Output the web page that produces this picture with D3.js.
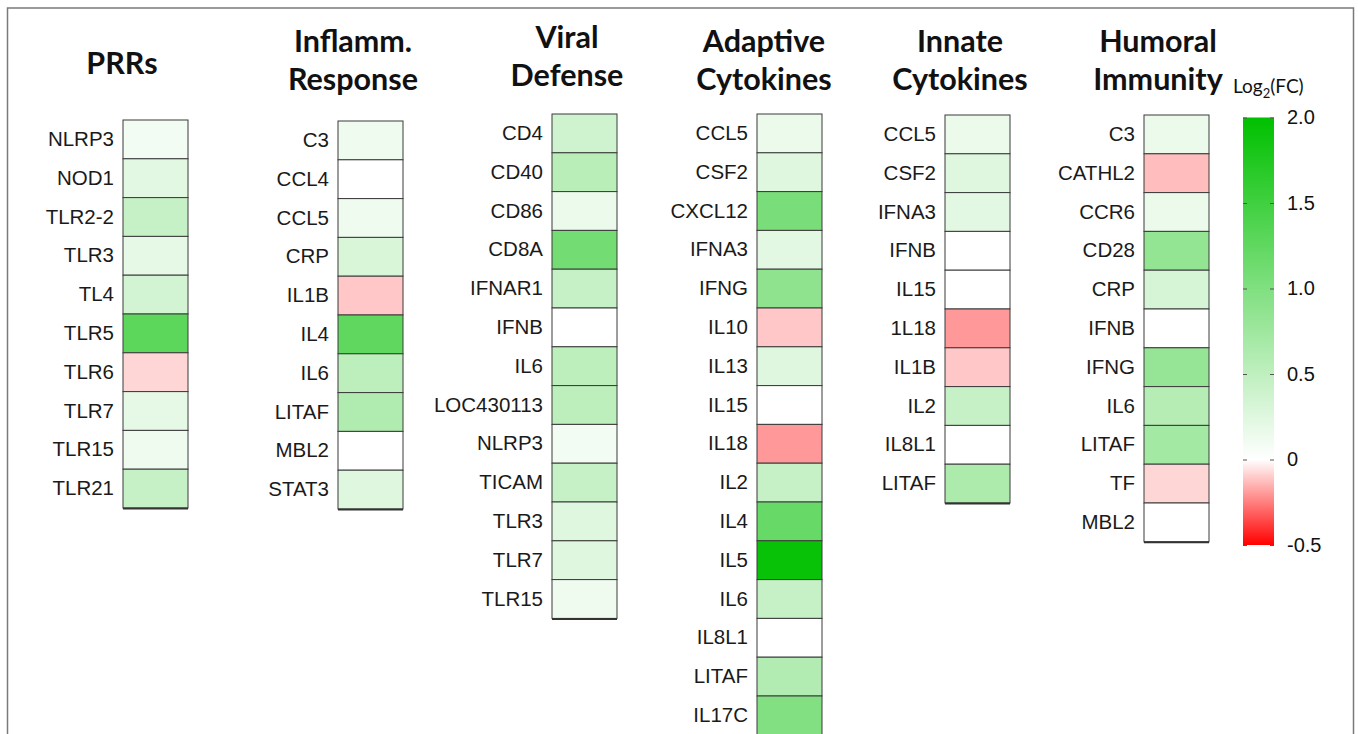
<!DOCTYPE html>
<html>
<head>
<meta charset="utf-8">
<script src="https://cdn.jsdelivr.net/npm/d3@7"></script>
<style>
  html, body { margin: 0; padding: 0; background: #ffffff; }
  svg { display: block; }
</style>
</head>
<body>
<svg id="chart" width="1358" height="734"></svg>
<script>
// ---------------- DATA ----------------
const prrGenes   = ["NLRP3","NOD1","TLR2-2","TLR3","TL4","TLR5","TLR6","TLR7","TLR15","TLR21"];
const prrValues  = [0.10, 0.22, 0.45, 0.20, 0.35, 1.28, -0.08, 0.20, 0.12, 0.45];

const inflGenes  = ["C3","CCL4","CCL5","CRP","IL1B","IL4","IL6","LITAF","MBL2","STAT3"];
const inflValues = [0.12, 0.0, 0.12, 0.30, -0.11, 1.25, 0.52, 0.62, 0.0, 0.25];

const viralGenes  = ["CD4","CD40","CD86","CD8A","IFNAR1","IFNB","IL6","LOC430113","NLRP3","TICAM","TLR3","TLR7","TLR15"];
const viralValues = [0.38, 0.55, 0.15, 1.10, 0.45, 0.0, 0.52, 0.52, 0.10, 0.45, 0.25, 0.25, 0.12];

const adaptGenes  = ["CCL5","CSF2","CXCL12","IFNA3","IFNG","IL10","IL13","IL15","IL18","IL2","IL4","IL5","IL6","IL8L1","LITAF","IL17C"];
const adaptValues = [0.15, 0.25, 1.05, 0.22, 0.88, -0.11, 0.25, 0.0, -0.20, 0.45, 1.20, 1.94, 0.45, 0.0, 0.60, 0.98];

const innateGenes  = ["CCL5","CSF2","IFNA3","IFNB","IL15","1L18","IL1B","IL2","IL8L1","LITAF"];
const innateValues = [0.15, 0.25, 0.22, 0.0, 0.0, -0.20, -0.11, 0.45, 0.0, 0.65];

const humGenes  = ["C3","CATHL2","CCR6","CD28","CRP","IFNB","IFNG","IL6","LITAF","TF","MBL2"];
const humValues = [0.15, -0.13, 0.15, 0.85, 0.32, 0.0, 0.82, 0.58, 0.72, -0.08, 0.0];

const panelTitles = [["PRRs"],["Inflamm.","Response"],["Viral","Defense"],["Adaptive","Cytokines"],["Innate","Cytokines"],["Humoral","Immunity"]];

const legendTicks = [2.0, 1.5, 1.0, 0.5, 0, -0.5];
const legendTickLabels = ["2.0","1.5","1.0","0.5","0","-0.5"];
const colorDomain = [-0.5, 0, 2.0];
const colorRange  = ["#ff0000", "#ffffff", "#00c000"];

// ---------------- LAYOUT ----------------
const svg = d3.select("#chart");
const color = d3.scaleLinear().domain(colorDomain).range(colorRange).clamp(true);

// frame
svg.append("rect")
  .attr("x", 7.5).attr("y", 8).attr("width", 1346).attr("height", 740)
  .attr("fill", "none").attr("stroke", "#7a7a7a").attr("stroke-width", 1.5);

const panels = [
  {genes: prrGenes,    values: prrValues,    x: 123, top: 120, titleX: 122, titleY: [74]},
  {genes: inflGenes,   values: inflValues,   x: 338, top: 121, titleX: 353, titleY: [52, 90]},
  {genes: viralGenes,  values: viralValues,  x: 552, top: 114, titleX: 567, titleY: [48, 86]},
  {genes: adaptGenes,  values: adaptValues,  x: 757, top: 114, titleX: 764, titleY: [52, 90]},
  {genes: innateGenes, values: innateValues, x: 945, top: 115, titleX: 960, titleY: [52, 90]},
  {genes: humGenes,    values: humValues,    x: 1144, top: 115, titleX: 1158, titleY: [52, 90]}
];

const cellW = 65;
const rowH = 38.8;

panels.forEach((p, i) => {
  const g = svg.append("g");
  const y = d3.scaleBand()
    .domain(p.genes)
    .range([p.top, p.top + rowH * p.genes.length])
    .paddingInner(0).paddingOuter(0);

  g.selectAll("rect.cell")
    .data(p.genes.map((gname, j) => ({gene: gname, value: p.values[j]})))
    .join("rect")
    .attr("class", "cell")
    .attr("x", p.x)
    .attr("y", d => y(d.gene))
    .attr("width", cellW)
    .attr("height", y.bandwidth())
    .attr("fill", d => color(d.value))
    .attr("stroke", "#3a3a3a")
    .attr("stroke-width", 1);

  // thicker bottom edge
  g.append("line")
    .attr("x1", p.x).attr("x2", p.x + cellW)
    .attr("y1", y.range()[1] + 0.5).attr("y2", y.range()[1] + 0.5)
    .attr("stroke", "#333").attr("stroke-width", 2);

  // labels via axis
  const axis = d3.axisLeft(y).tickSize(0).tickPadding(9);
  const ag = g.append("g").attr("transform", `translate(${p.x},0)`).call(axis);
  ag.select(".domain").remove();
  ag.attr("font-family", "Liberation Sans").attr("font-size", 20.5);
  ag.selectAll("text")
    .style("font-family", "'Liberation Sans', Arial, sans-serif")
    .style("font-size", "20.5px")
    .attr("fill", "#1a1a1a");

  // title
  const t = svg.append("text")
    .attr("text-anchor", "middle")
    .attr("font-family", "Lato, 'Open Sans', sans-serif")
    .attr("font-weight", "bold")
    .attr("font-size", 30.5)
    .attr("fill", "#111");
  panelTitles[i].forEach((line, k) => {
    t.append("tspan").attr("x", p.titleX).attr("y", p.titleY[k]).text(line);
  });
});

// ---------------- LEGEND ----------------
const lgX = 1243, lgW = 31, lgTop = 117.5, lgBot = 545;
const ly = d3.scaleLinear().domain([2.0, -0.5]).range([lgTop, lgBot]);

const defs = svg.append("defs");
const grad = defs.append("linearGradient").attr("id", "lg")
  .attr("x1", 0).attr("x2", 0).attr("y1", 0).attr("y2", 1);
const stops = d3.range(0, 1.0001, 0.05);
stops.forEach(s => {
  const v = ly.invert(lgTop + s * (lgBot - lgTop));
  grad.append("stop").attr("offset", s).attr("stop-color", color(v));
});
svg.append("rect")
  .attr("x", lgX).attr("y", lgTop).attr("width", lgW).attr("height", lgBot - lgTop)
  .attr("fill", "url(#lg)");

const rAxis = d3.axisRight(ly).tickValues(legendTicks)
  .tickFormat((d, i) => legendTickLabels[i]).tickSize(-4).tickPadding(13);
const rg = svg.append("g").attr("transform", `translate(${lgX + lgW},0)`).call(rAxis);
rg.select(".domain").remove();
rg.selectAll("line").attr("stroke", "#555");
rg.selectAll("text")
  .style("font-family", "'Liberation Sans', Arial, sans-serif")
  .style("font-size", "20px").attr("fill", "#111");

const lAxis = d3.axisLeft(ly).tickValues(legendTicks).tickFormat("").tickSize(-4);
const lg2 = svg.append("g").attr("transform", `translate(${lgX},0)`).call(lAxis);
lg2.select(".domain").remove();
lg2.selectAll("line").attr("stroke", "#555");

const lt = svg.append("text")
  .attr("x", 1233).attr("y", 93)
  .attr("font-family", "Lato, 'Open Sans', sans-serif")
  .attr("font-size", 19).attr("fill", "#111");
lt.append("tspan").text("Log");
lt.append("tspan").attr("font-size", 13).attr("dy", 5).text("2");
lt.append("tspan").attr("dy", -5).text("(FC)");
</script>
</body>
</html>
